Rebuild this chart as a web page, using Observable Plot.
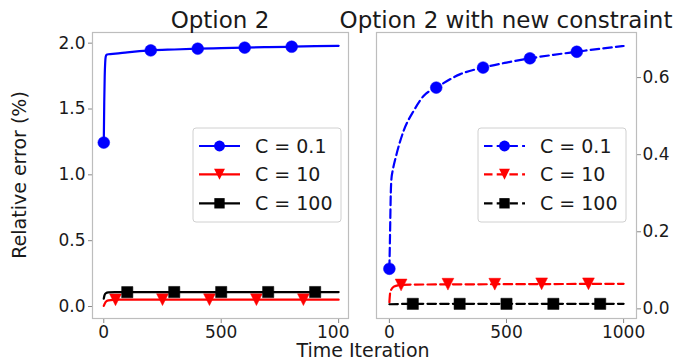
<!DOCTYPE html>
<html><head><meta charset="utf-8">
<script src="https://cdn.jsdelivr.net/npm/d3@7"></script>
<script src="https://cdn.jsdelivr.net/npm/@observablehq/plot@0.6"></script>
<style>
html,body{margin:0;padding:0;background:#fff;}
#wrap{position:relative;width:675px;height:363px;overflow:hidden;background:#fff;}
#wrap > svg{position:absolute;top:0;}
</style></head><body><div id="wrap"></div>
<script>
// ---------- data ----------
const seriesLabels = ["C = 0.1", "C = 10", "C = 100"];
const panelTitles = ["Option 2", "Option 2 with new constraint"];
const xLabel = "Time Iteration";
const yLabel = "Relative error (%)";
const xTicks = [0, 500, 1000];
const leftYTicks = [0, 0.5, 1.0, 1.5, 2.0];
const rightYTicks = [0, 0.2, 0.4, 0.6];

// Option 2 (left panel)
const leftBlueT = [0, 2, 4, 6, 8, 12, 20, 50, 100, 200, 300, 400, 500, 600, 700, 800, 900, 1000];
const leftBlueV = [1.245, 1.55, 1.75, 1.85, 1.895, 1.912, 1.916, 1.92, 1.93, 1.945, 1.952, 1.958, 1.962, 1.966, 1.970, 1.973, 1.977, 1.98];
const leftRedT = [0, 5, 10, 20, 40, 100, 500, 1000];
const leftRedV = [0.005, 0.025, 0.038, 0.047, 0.051, 0.052, 0.052, 0.052];
const leftBlackT = [0, 3, 8, 20, 50, 100, 500, 1000];
const leftBlackV = [0.06, 0.085, 0.1, 0.107, 0.109, 0.11, 0.11, 0.11];

// Option 2 with new constraint (right panel)
const rightBlueT = [0, 3, 6, 10, 12, 30, 61, 104, 147, 200, 303, 400, 500, 600, 700, 800, 900, 1000];
const rightBlueV = [0.104, 0.2, 0.3, 0.345, 0.352, 0.40, 0.462, 0.514, 0.553, 0.574, 0.609, 0.626, 0.639, 0.650, 0.659, 0.667, 0.675, 0.682];
const rightRedT = [0, 3, 8, 20, 50, 100, 500, 1000];
const rightRedV = [0.017, 0.04, 0.05, 0.058, 0.062, 0.063, 0.064, 0.065];
const rightBlackT = [0, 100, 500, 1000];
const rightBlackV = [0.012, 0.013, 0.013, 0.013];

// marker positions
const blueMarkT = [0, 200, 400, 600, 800];
const redMarkT = [50, 250, 450, 650, 850];
const blackMarkT = [100, 300, 500, 700, 900];
const leftBlueMarkV = [1.245, 1.945, 1.958, 1.966, 1.973];
const leftRedMarkV = [0.051, 0.052, 0.052, 0.052, 0.052];
const leftBlackMarkV = [0.109, 0.11, 0.11, 0.11, 0.11];
const rightBlueMarkV = [0.104, 0.574, 0.626, 0.650, 0.667];
const rightRedMarkV = [0.062, 0.064, 0.064, 0.065, 0.065];
const rightBlackMarkV = [0.013, 0.013, 0.013, 0.013, 0.013];

// ---------- styles ----------
const colors = ["blue", "red", "black"];
const FONT = "'DejaVu Sans', sans-serif";
const TEXT = "#1a1a1a";
const markerR = 5.9;

// matplotlib-like markers (size = area of circle of radius r)
const triDown = {draw(ctx, size) { const h = Math.sqrt(size / Math.PI); ctx.moveTo(0, h); ctx.lineTo(-h, -h); ctx.lineTo(h, -h); ctx.closePath(); }};
const squareSym = {draw(ctx, size) { const h = Math.sqrt(size / Math.PI) * 0.95; ctx.rect(-h, -h, 2 * h, 2 * h); }};
const symbols = [d3.symbolCircle, triDown, squareSym];

const zip = (T, V, s) => T.map((t, i) => ({t, v: V[i], s}));

function panel(lines, marks, opts) {
  const dash = opts.dashed ? "8.5,4.2" : null;
  const m = [
    Plot.axisX({ticks: xTicks, tickFormat: "d", tickSize: 5, tickPadding: 2, stroke: "#888", fill: TEXT, label: null}),
    Plot.axisY({ticks: opts.yTicks, tickFormat: ".1f", anchor: opts.yAnchor, tickSize: 4, tickPadding: opts.yAnchor === "right" ? 2 : 3, stroke: "#888", fill: TEXT, label: null})
  ];
  lines.forEach((d, i) => {
    m.push(Plot.line(d, {x: "t", y: "v", stroke: colors[i], strokeWidth: 2.2, strokeDasharray: dash, curve: "monotone-x"}));
    m.push(Plot.dot(marks[i], {x: "t", y: "v", fill: colors[i], stroke: colors[i], strokeWidth: 0.5, r: markerR, symbol: () => symbols[i]}));
  });
  m.push(Plot.frame({stroke: "#bdbdbd", strokeWidth: 1.2}));
  return Plot.plot({
    width: opts.width, height: 363,
    marginLeft: opts.ml, marginRight: opts.mr, marginTop: 32, marginBottom: 45,
    x: {domain: opts.xDomain},
    y: {domain: opts.yDomain},
    style: {background: "white", fontFamily: FONT, fontSize: "17px", color: TEXT, overflow: "hidden"},
    marks: m
  });
}

const leftPlot = panel(
  [zip(leftBlueT, leftBlueV), zip(leftRedT, leftRedV), zip(leftBlackT, leftBlackV)],
  [zip(blueMarkT, leftBlueMarkV), zip(redMarkT, leftRedMarkV), zip(blackMarkT, leftBlackMarkV)],
  {width: 350, ml: 92, mr: 2, xDomain: [-48, 1042], yDomain: [-0.091, 2.081], yTicks: leftYTicks, yAnchor: "left", dashed: false}
);
const rightPlot = panel(
  [zip(rightBlueT, rightBlueV), zip(rightRedT, rightRedV), zip(rightBlackT, rightBlackV)],
  [zip(blueMarkT, rightBlueMarkV), zip(redMarkT, rightRedMarkV), zip(blackMarkT, rightBlackMarkV)],
  {width: 325, ml: 26, mr: 39, xDomain: [-55, 1055], yDomain: [-0.025, 0.717], yTicks: rightYTicks, yAnchor: "right", dashed: true}
);

const wrap = document.getElementById("wrap");
leftPlot.style.left = "0px";
rightPlot.style.left = "350px";
wrap.appendChild(leftPlot);
wrap.appendChild(rightPlot);

// ---------- overlay: titles, axis labels, legends ----------
const ov = d3.create("svg").attr("width", 675).attr("height", 363)
  .style("left", "0px").style("pointer-events", "none")
  .attr("font-family", FONT).attr("fill", TEXT);

ov.append("text").attr("x", 220).attr("y", 28).attr("text-anchor", "middle").attr("font-size", 23).text(panelTitles[0]);
ov.append("text").attr("x", 506).attr("y", 28).attr("text-anchor", "middle").attr("font-size", 23).text(panelTitles[1]);
ov.append("text").attr("x", 363).attr("y", 357).attr("text-anchor", "middle").attr("font-size", 19).text(xLabel);
ov.append("text").attr("transform", "translate(26,175) rotate(-90)").attr("text-anchor", "middle").attr("font-size", 19).text(yLabel);

function legend(bx, by, dashed) {
  const g = ov.append("g");
  g.append("rect").attr("x", bx).attr("y", by).attr("width", 148).attr("height", 94).attr("rx", 3)
    .attr("fill", "white").attr("fill-opacity", 0.8).attr("stroke", "#d0d0d0").attr("stroke-width", 1);
  const rowsY = [18, 46.3, 75.3];
  seriesLabels.forEach((lab, i) => {
    const y = by + rowsY[i];
    g.append("line").attr("x1", bx + 6).attr("x2", bx + 47).attr("y1", y).attr("y2", y)
      .attr("stroke", colors[i]).attr("stroke-width", 2.2).attr("stroke-dasharray", dashed ? "8.5,4.2" : null);
    g.append("path").attr("transform", `translate(${bx + 26.5},${y})`)
      .attr("d", d3.symbol(symbols[i], Math.PI * markerR * markerR * 0.85)())
      .attr("fill", colors[i]);
    g.append("text").attr("x", bx + 62).attr("y", y).attr("dy", "0.36em").attr("font-size", 19).text(lab);
  });
}
legend(193, 128, false);
legend(478, 128, true);

wrap.appendChild(ov.node());
</script>
</body></html>
